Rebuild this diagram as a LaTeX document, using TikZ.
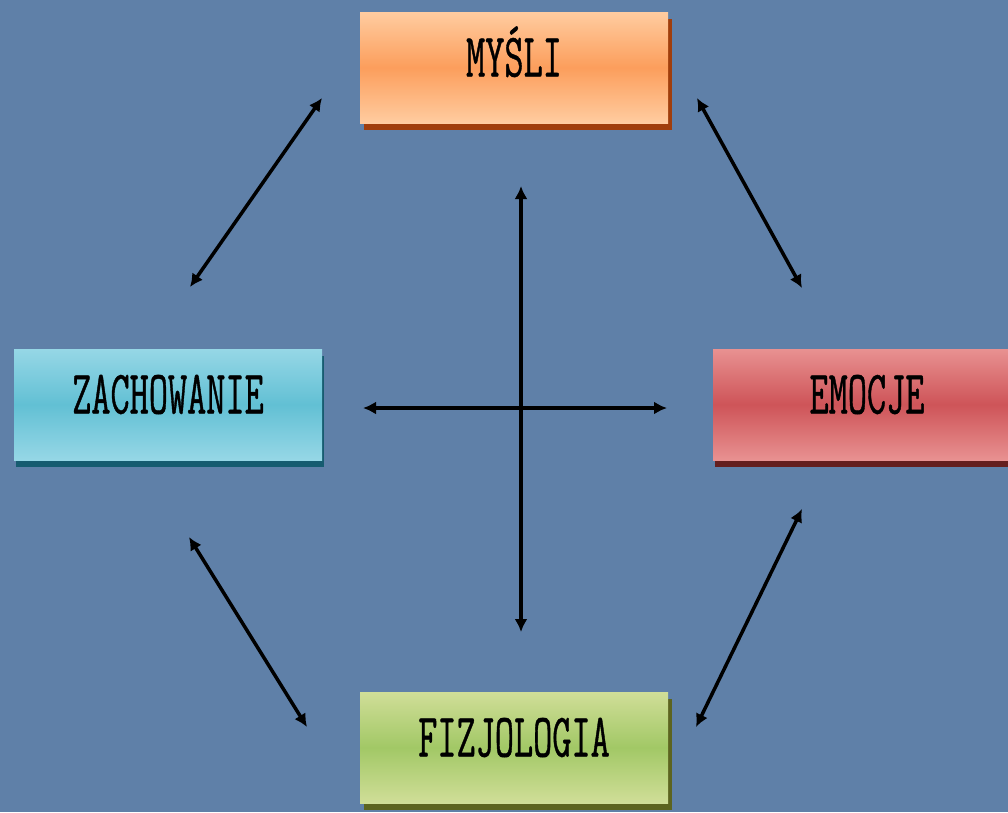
\documentclass[tikz,border=0pt]{standalone}
\usepackage{fontspec}
\newfontfamily\boxfont[FakeStretch=0.6,FakeBold=0.6]{Latin Modern Mono}
\usetikzlibrary{arrows.meta,shadows}
\definecolor{tlo}{RGB}{95,128,168}
\definecolor{orJasny}{RGB}{255,204,160}
\definecolor{orCiemny}{RGB}{252,158,92}
\definecolor{orCien}{RGB}{160,62,12}
\definecolor{niJasny}{RGB}{150,215,230}
\definecolor{niCiemny}{RGB}{98,192,212}
\definecolor{niCien}{RGB}{22,92,112}
\definecolor{czJasny}{RGB}{232,145,145}
\definecolor{czCiemny}{RGB}{206,84,88}
\definecolor{czCien}{RGB}{100,30,30}
\definecolor{ziJasny}{RGB}{208,222,152}
\definecolor{ziCiemny}{RGB}{162,200,102}
\definecolor{ziCien}{RGB}{92,100,32}

\begin{document}
\begin{tikzpicture}[x=1pt,y=-1pt,
  pole/.style={rectangle,minimum width=308pt,minimum height=111pt,inner sep=0pt,
    text height=37pt,text depth=19pt,
    font=\boxfont\fontsize{62}{62}\selectfont},
  link/.style={{Latex[length=13pt,width=13pt]}-{Latex[length=13pt,width=13pt]},
    line width=3.5pt,black}]
\useasboundingbox (0,0) rectangle (1008,812);
\clip (0,0) rectangle (1008,812);
\fill[tlo] (0,0) rectangle (1008,812);

\node[pole,top color=orJasny,bottom color=orJasny,middle color=orCiemny,
  drop shadow={shadow xshift=4pt,shadow yshift=-7pt,fill=orCien,opacity=1}]
  (mysli) at (514,67.5) {MYŚLI};
\node[pole,top color=niJasny,bottom color=niJasny,middle color=niCiemny,
  drop shadow={shadow xshift=2pt,shadow yshift=-7pt,fill=niCien,opacity=1}]
  (zach) at (168,404.5) {ZACHOWANIE};
\node[pole,top color=czJasny,bottom color=czJasny,middle color=czCiemny,
  drop shadow={shadow xshift=2pt,shadow yshift=-7pt,fill=czCien,opacity=1}]
  (emoc) at (867,404.5) {EMOCJE};
\node[pole,top color=ziJasny,bottom color=ziJasny,middle color=ziCiemny,
  drop shadow={shadow xshift=4pt,shadow yshift=-7pt,fill=ziCien,opacity=1}]
  (fizjo) at (514,747.5) {FIZJOLOGIA};

\coordinate (mz1) at (322,98);
\coordinate (mz2) at (190,287);
\coordinate (me1) at (697,98);
\coordinate (me2) at (802,288);
\coordinate (zf1) at (189,537);
\coordinate (zf2) at (307,727);
\coordinate (ef1) at (802,509);
\coordinate (ef2) at (696,727);
\coordinate (pion1) at (521,186);
\coordinate (pion2) at (521,632);
\coordinate (poz1) at (363,408);
\coordinate (poz2) at (667,408);

\draw[link] (mz1) -- (mz2);
\draw[link] (me1) -- (me2);
\draw[link] (zf1) -- (zf2);
\draw[link] (ef1) -- (ef2);
\draw[link] (pion1) -- (pion2);
\draw[link] (poz1) -- (poz2);
\end{tikzpicture}
\end{document}
